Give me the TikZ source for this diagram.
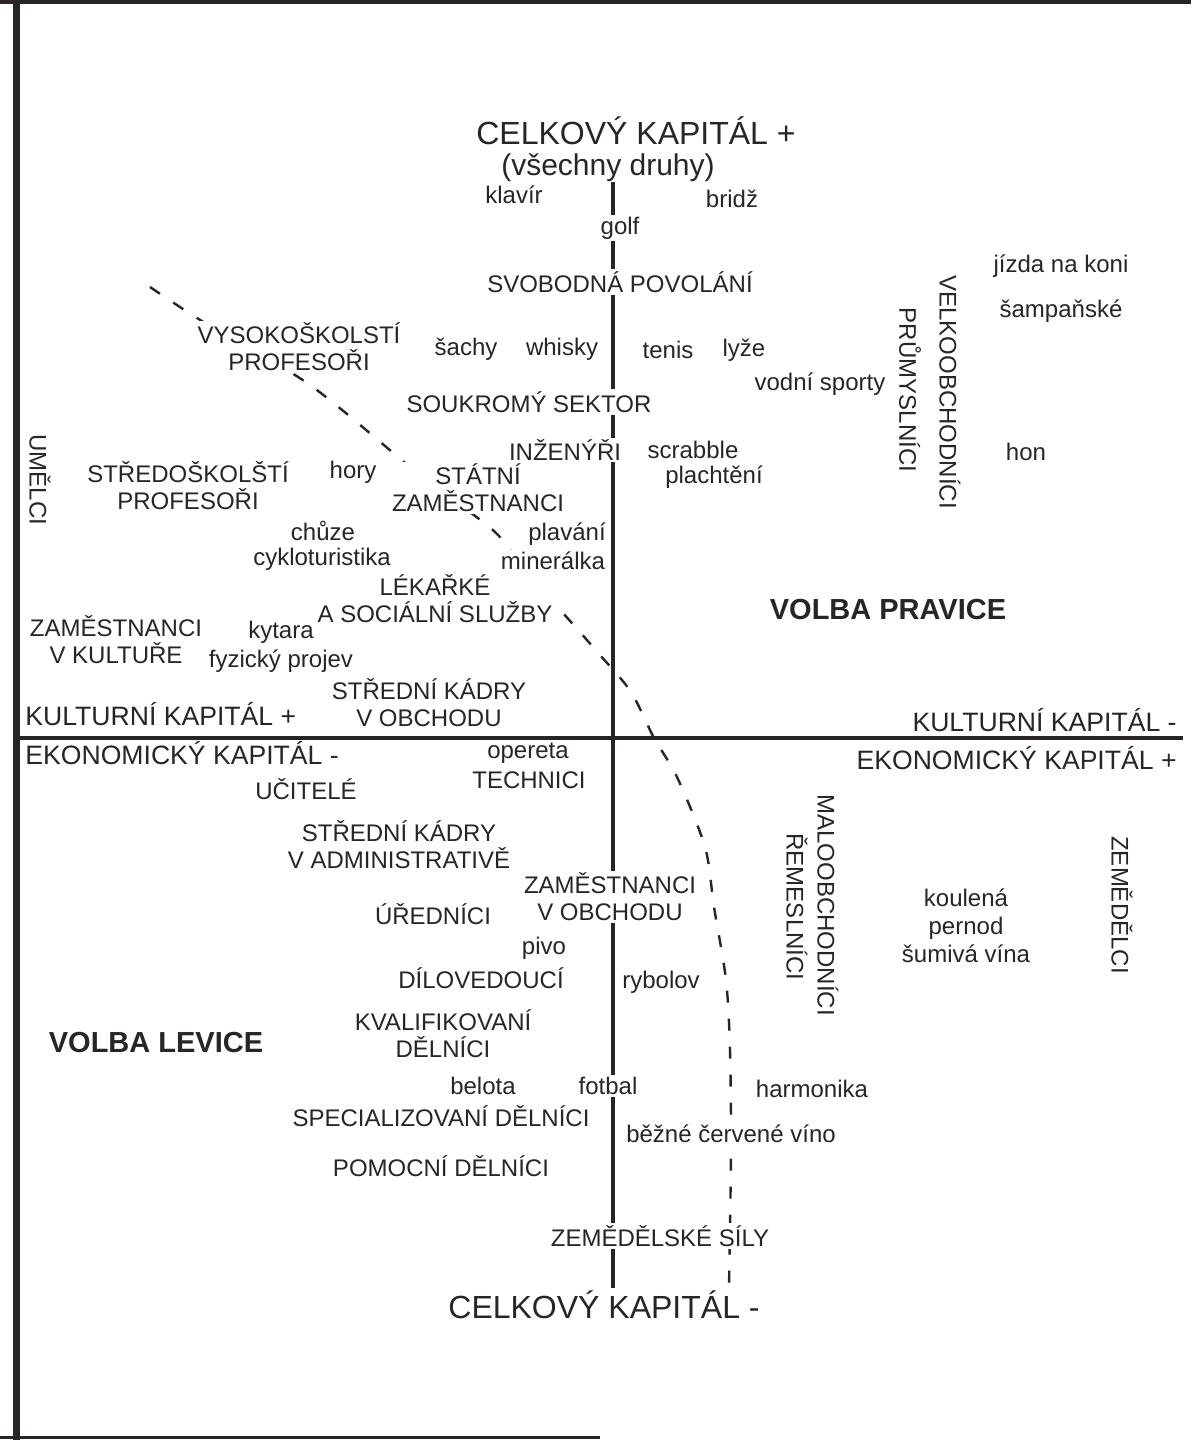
\documentclass[tikz,border=0pt]{standalone}
\usepackage{fontspec}
\setmainfont{Liberation Sans}
\usetikzlibrary{backgrounds}
\definecolor{ink}{RGB}{40,36,40}
\tikzset{
  lbl/.style={font=\fontsize{12}{13.5}\selectfont, text=ink, fill=white, inner sep=1pt, align=center},
  vlbl/.style={lbl, rotate=-90},
  axlbl/.style={lbl, fill=none, inner sep=0pt, font=\fontsize{13.3}{15}\selectfont},
  ttl/.style={lbl, inner sep=0pt, font=\fontsize{16}{18}\selectfont},
  vote/.style={lbl, font=\bfseries\fontsize{14.5}{16}\selectfont},
  axis/.style={draw=ink, line width=2pt},
  split/.style={draw=ink, line width=1.2pt, dash pattern=on 6pt off 8pt},
}
\begin{document}
\begin{tikzpicture}[x=0.5pt, y=-0.5pt]
  \useasboundingbox (0,0) rectangle (1191,1440);
  % titles on the total capital axis
  \node[ttl] (celkplus) at (636,131) {CELKOVÝ KAPITÁL +};
  \node[ttl, font=\fontsize{15}{17}\selectfont] (druhy) at (608,168) {(všechny druhy)};
  \node[ttl] (celkminus) at (604,1305) {CELKOVÝ KAPITÁL -};
  % axis ends
  \coordinate (vtop) at (613,182);
  \coordinate (vbot) at (613,1288);
  \coordinate (hleft) at (19,738);
  \coordinate (hright) at (1183,738);
  % labels of the cultural / economic capital axis
  \node[axlbl, anchor=west] (kulplus) at (25,714) {KULTURNÍ KAPITÁL +};
  \node[axlbl, anchor=west] (ekominus) at (25,753) {EKONOMICKÝ KAPITÁL -};
  \node[axlbl, anchor=east] (kulminus) at (1177,720) {KULTURNÍ KAPITÁL -};
  \node[axlbl, anchor=east] (ekoplus) at (1177,758) {EKONOMICKÝ KAPITÁL +};
  % upper half
  \node[lbl] (klavir) at (514,195) {klavír};
  \node[lbl] (bridz) at (732,199) {bridž};
  \node[lbl] (golf) at (620,228) {golf};
  \node[lbl] (svobodna) at (620,282) {SVOBODNÁ POVOLÁNÍ};
  \node[lbl] (jizda) at (1061,266) {jízda na koni};
  \node[lbl] (sampanske) at (1061,311) {šampaňské};
  \node[lbl] (vysprof) at (299,347) {VYSOKOŠKOLSTÍ\\PROFESOŘI};
  \node[lbl] (sachy) at (466,349) {šachy};
  \node[lbl] (whisky) at (562,349) {whisky};
  \node[lbl] (tenis) at (668,350) {tenis};
  \node[lbl] (lyze) at (744,350) {lyže};
  \node[lbl] (vodni) at (820,384) {vodní sporty};
  \node[lbl] (soukromy) at (529,402) {SOUKROMÝ SEKTOR};
  \node[vlbl] (velko) at (950,392) {VELKOOBCHODNÍCI};
  \node[vlbl] (prumysl) at (910,390) {PRŮMYSLNÍCI};
  \node[lbl] (inzenyri) at (565,450) {INŽENÝŘI};
  \node[lbl] (scrabble) at (693,450) {scrabble};
  \node[lbl] (plachteni) at (714,477) {plachtění};
  \node[lbl] (hon) at (1026,452) {hon};
  \node[vlbl] (umelci) at (40,480) {UMĚLCI};
  \node[lbl] (stredprof) at (188,486) {STŘEDOŠKOLŠTÍ\\PROFESOŘI};
  \node[lbl] (hory) at (353,472) {hory};
  \node[lbl] (statzam) at (478,488) {STÁTNÍ\\ZAMĚSTNANCI};
  \node[lbl] (chuze) at (323,531) {chůze};
  \node[lbl] (plavani) at (567,534) {plavání};
  \node[lbl] (cyklo) at (322,559) {cykloturistika};
  \node[lbl] (mineralka) at (553,561) {minerálka};
  \node[lbl] (lekar) at (435,599) {LÉKAŘKÉ\\A SOCIÁLNÍ SLUŽBY};
  \node[vote] (pravice) at (888,610) {VOLBA PRAVICE};
  \node[lbl] (zamkult) at (116,640) {ZAMĚSTNANCI\\V KULTUŘE};
  \node[lbl] (kytara) at (281,632) {kytara};
  \node[lbl] (projev) at (281,661) {fyzický projev};
  \node[lbl] (stredobch) at (429,703) {STŘEDNÍ KÁDRY\\V OBCHODU};
  % lower half
  \node[lbl] (opereta) at (528,753) {opereta};
  \node[lbl] (technici) at (529,780) {TECHNICI};
  \node[lbl] (ucitele) at (306,789) {UČITELÉ};
  \node[lbl] (stredadm) at (399,845) {STŘEDNÍ KÁDRY\\V ADMINISTRATIVĚ};
  \node[vlbl] (malo) at (828,905) {MALOOBCHODNÍCI};
  \node[vlbl] (remesl) at (797,907) {ŘEMESLNÍCI};
  \node[vlbl] (zemedelci) at (1122,905) {ZEMĚDĚLCI};
  \node[lbl] (zamobch) at (610,897) {ZAMĚSTNANCI\\V OBCHODU};
  \node[lbl] (urednici) at (433,914) {ÚŘEDNÍCI};
  \node[lbl, font=\fontsize{12}{14}\selectfont] (napoje) at (966,926) {koulená\\pernod\\šumivá vína};
  \node[lbl] (pivo) at (544,948) {pivo};
  \node[lbl] (dilovedouci) at (481,978) {DÍLOVEDOUCÍ};
  \node[lbl] (rybolov) at (661,982) {rybolov};
  \node[lbl] (kvalif) at (443,1034) {KVALIFIKOVANÍ\\DĚLNÍCI};
  \node[vote] (levice) at (156,1043) {VOLBA LEVICE};
  \node[lbl] (belota) at (483,1086) {belota};
  \node[lbl] (fotbal) at (608,1086) {fotbal};
  \node[lbl] (harmonika) at (812,1089) {harmonika};
  \node[lbl] (special) at (441,1116) {SPECIALIZOVANÍ DĚLNÍCI};
  \node[lbl] (bezne) at (731,1134) {běžné červené víno};
  \node[lbl] (pomocni) at (441,1166) {POMOCNÍ DĚLNÍCI};
  \node[lbl] (zemsily) at (660,1236) {ZEMĚDĚLSKÉ SÍLY};
  % axes and the dividing line, under the labels
  \begin{scope}[on background layer]
    \fill[white] (0,0) rectangle (1191,1440);
    \draw[ink, line width=3.5pt] (16,0) -- (16,1440);
    \draw[ink, line width=2pt] (0,2) -- (1191,2);
    \draw[ink, line width=1.5pt] (0,1437) -- (600,1437);
    \draw[axis] (vtop) -- (vbot);
    \draw[axis] (hleft) -- (hright);
    \draw[split] plot[smooth, tension=0.5] coordinates {(150,287) (205,323) (310,385) (421,476) (495,532) (530,578) (562,612) (600,655) (631,692) (654,738) (677,777) (705,847) (714,907) (726,980) (730,1050) (731,1150) (729,1288)};
  \end{scope}
\end{tikzpicture}
\end{document}
